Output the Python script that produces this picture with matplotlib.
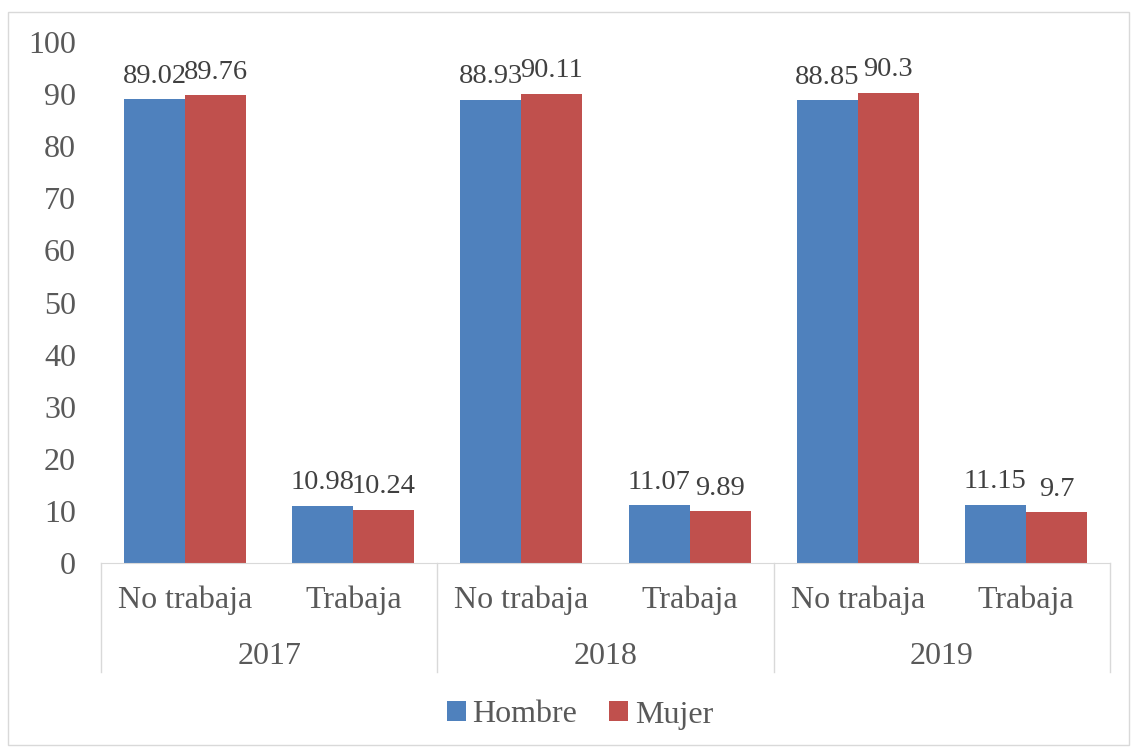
import matplotlib
matplotlib.use("Agg")
import matplotlib.pyplot as plt
from matplotlib.patches import Rectangle
import numpy as np

years = ["2017", "2018", "2019"]
categories = ["No trabaja", "Trabaja"] * 3
hombre = [89.02, 10.98, 88.93, 11.07, 88.85, 11.15]
mujer = [89.76, 10.24, 90.11, 9.89, 90.3, 9.7]
hombre_lbl = ["89.02", "10.98", "88.93", "11.07", "88.85", "11.15"]
mujer_lbl = ["89.76", "10.24", "90.11", "9.89", "90.3", "9.7"]

blue = "#4F81BD"
red = "#C0504D"
txt = "#595959"
grid = "#D9D9D9"

plt.rcParams["font.family"] = ["Liberation Serif", "DejaVu Serif"]

W, H = 1132, 747
fig = plt.figure(figsize=(W / 100, H / 100), dpi=100)
fig.patches.append(Rectangle((8 / W, 2 / H), 1121 / W, 733 / H, transform=fig.transFigure,
                             fill=False, edgecolor=grid, linewidth=1))
ax = fig.add_axes([101 / W, 184 / H, (1110 - 101) / W, (563 - 42) / H])

x = np.arange(len(categories))
bw = 0.363
ax.bar(x - bw / 2, hombre, bw, color=blue, label="Hombre")
ax.bar(x + bw / 2, mujer, bw, color=red, label="Mujer")

for i in range(len(x)):
    ax.text(x[i] - bw / 2, hombre[i] + 2.0, hombre_lbl[i], ha="center", va="bottom",
            fontsize=20.5, color="#404040")
    ax.text(x[i] + bw / 2, mujer[i] + 2.0, mujer_lbl[i], ha="center", va="bottom",
            fontsize=20.5, color="#404040")

ax.set_xlim(-0.5, len(x) - 0.5)
ax.set_ylim(0, 100)
ax.set_yticks(range(0, 101, 10))
ax.tick_params(axis="y", length=0, pad=18, labelsize=23, labelcolor=txt)
ax.set_xticks([])
for s in ["top", "right", "left"]:
    ax.spines[s].set_visible(False)
ax.spines["bottom"].set_color(grid)

# two-level category axis
trans = ax.get_xaxis_transform()
for i, c in enumerate(categories):
    ax.text(x[i], -0.072, c, transform=trans, ha="center", va="center",
            fontsize=23, color=txt)
for j, y in enumerate(years):
    ax.text(2 * j + 0.5, -0.18, y, transform=trans, ha="center", va="center",
            fontsize=23, color=txt)
for b in [-0.5, 1.5, 3.5, 5.5]:
    ax.plot([b, b], [0, -0.209], transform=trans, color=grid, linewidth=1, clip_on=False)

fig.legend(loc="center", bbox_to_anchor=(580 / W, 1 - 715 / H), ncol=2, frameon=False,
           fontsize=23, labelcolor=txt, handlelength=0.6, handleheight=0.6,
           handletextpad=0.2, columnspacing=1.0)

fig.savefig("out.png", dpi=100)
